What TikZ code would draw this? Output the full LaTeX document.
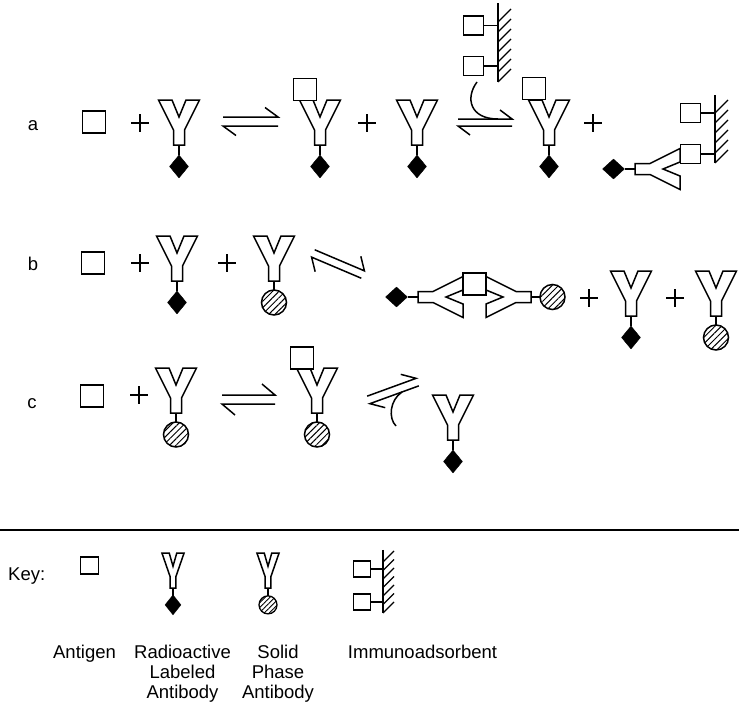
\documentclass[tikz,border=0pt]{standalone}
\usepackage{fontspec}
\setmainfont{Liberation Sans}
\usetikzlibrary{shapes.geometric,patterns.meta}
\tikzset{
  ln/.style={line width=1.5pt, line join=miter},
  lbl/.style={font=\fontsize{18.5}{20}\selectfont, inner sep=0pt},
  ag/.style={draw, line width=1.5pt, fill=white, minimum width=23pt, minimum height=22pt, inner sep=0pt},
  agkey/.style={draw, line width=1.4pt, fill=white, minimum width=18pt, minimum height=17pt, inner sep=0pt},
  dia/.style={diamond, fill=black, draw=black, line width=0.4pt, minimum width=19pt, minimum height=23pt, inner sep=0pt},
  diah/.style={diamond, fill=black, draw=black, line width=0.4pt, minimum width=22pt, minimum height=20pt, inner sep=0pt},
  diakey/.style={diamond, fill=black, draw=black, line width=0.4pt, minimum width=16pt, minimum height=20pt, inner sep=0pt},
  hc/.style={circle, draw, line width=1.5pt, minimum size=25pt, inner sep=0pt,
     pattern={Lines[angle=45,distance=4.5pt,line width=1pt]}},
  hckey/.style={hc, line width=1.3pt, minimum size=18pt, pattern={Lines[angle=45,distance=3.5pt,line width=0.9pt]}},
  pics/ab/.style={code={
    \draw[ln, fill=white] (-20.5,0) -- (-7,0) -- (0,17) -- (7,0) -- (20.5,0) -- (5.5,30)
       -- (5.5,45) -- (-5.5,45) -- (-5.5,30) -- cycle;
    \draw[ln] (0,45) -- (0,55);
    \coordinate (-t) at (0,66.5);
  }},
  pics/imm/.style n args={3}{code={
    \draw[ln] (0,-#1) -- (0,#2);
    \pgfmathtruncatemacro\nh{floor((#1+#2-13)/10)}
    \foreach \k in {0,...,\nh} {\draw[line width=1.2pt] (0,{#2-10*\k}) -- ++(13,-13);}
    \draw[ln] (-14.5,0) -- (0,0) (-14.5,#3) -- (0,#3);
    \draw[ln, fill=white] (-34.5,-9.5) rectangle (-14.5,9.5);
    \draw[ln, fill=white] (-34.5,{#3-9.5}) rectangle (-14.5,{#3+9.5});
  }},
  pics/plus/.style={code={\draw[line width=2.2pt] (-9,0) -- (9,0) (0,-9) -- (0,9);}},
  pics/eq/.style n args={4}{code={
    \draw[ln] ({-#1/2},{-#2/2}) -- ({#1/2},{-#2/2}) -- ({#1/2-#3},{-#2/2-#4});
    \draw[ln] ({#1/2},{#2/2}) -- ({-#1/2},{#2/2}) -- ({-#1/2+#3},{#2/2+#4});
  }}
}
\begin{document}
\begin{tikzpicture}[x=1pt,y=-1pt]
\useasboundingbox (0,0) rectangle (739,704);

% ---------- row a ----------
\node[lbl, anchor=base] (la) at (33,130) {a};
\node[ag] (a0) at (94,122) {};
\pic (ap1) at (140,123) {plus};
\pic (A1) at (179,100) {ab};
\node[dia] (A1d) at (A1-t) {};
\pic (E1) at (250.5,121.5) {eq={55}{9}{13}{9.5}};
\pic (A2) at (320,100) {ab};
\node[dia] (A2d) at (A2-t) {};
\node[ag] (A2s) at (305,89.5) {};
\pic (ap2) at (367,123) {plus};
\pic (A3) at (417,100) {ab};
\node[dia] (A3d) at (A3-t) {};
\pic (I1) at (498,25.5) {imm={22.5}{56.5}{40.5}};
\pic (E2) at (485,122.5) {eq={54}{7}{12}{9}};
\coordinate (c1s) at (477,82);
\coordinate (c1e) at (498,119);
\draw[ln] (c1s) .. controls (465,98) and (470,119) .. (c1e);
\pic (A4) at (549,100) {ab};
\node[dia] (A4d) at (A4-t) {};
\node[ag] (A4s) at (534,88.5) {};
\pic (ap3) at (593,123) {plus};
\pic[rotate=-90] (A5) at (680,169) {ab};
\node[diah] (A5d) at (A5-t) {};
\pic (I2) at (715,113) {imm={18}{50}{41}};

% ---------- row b ----------
\node[lbl, anchor=base] (lb) at (33,270) {b};
\node[ag] (b0) at (93,263) {};
\pic (bp1) at (140,263) {plus};
\pic (B1) at (177,236) {ab};
\node[dia] (B1d) at (B1-t) {};
\pic (bp2) at (227,263) {plus};
\pic (B2) at (274,236) {ab};
\node[hc] (B2c) at (B2-t) {};
\pic[rotate=-23] (E3) at (338,264) {eq={54}{8}{9}{12}};
\pic[rotate=-90] (BL) at (463,297) {ab};
\node[diah] (BLd) at (BL-t) {};
\pic[rotate=90] (BR) at (486,297) {ab};
\node[hc] (BRc) at (BR-t) {};
\node[ag] (Bs) at (474.5,284) {};
\pic (bp3) at (589,298) {plus};
\pic (B3) at (631,271) {ab};
\node[dia] (B3d) at (B3-t) {};
\pic (bp4) at (675,298) {plus};
\pic (B4) at (716,271) {ab};
\node[hc] (B4c) at (B4-t) {};

% ---------- row c ----------
\node[lbl, anchor=base] (lc) at (32,408) {c};
\node[ag] (c0) at (92,396) {};
\pic (cp1) at (139,395) {plus};
\pic (C1) at (176,368) {ab};
\node[hc] (C1c) at (C1-t) {};
\pic (E4) at (248.5,399.5) {eq={53}{9}{13}{11}};
\pic (C2) at (317,368) {ab};
\node[hc] (C2c) at (C2-t) {};
\node[ag] (C2s) at (302,358) {};
\pic[rotate=20] (E5) at (393,391) {eq={52}{8}{13}{9}};
\coordinate (c2s) at (402,392);
\coordinate (c2e) at (396,426);
\draw[ln] (c2s) .. controls (390,400) and (388,418) .. (c2e);
\pic (C3) at (453,395) {ab};
\node[dia] (C3d) at (C3-t) {};

% ---------- separator ----------
\coordinate (hl) at (0,530);
\coordinate (hr) at (739,530);
\draw[line width=1.6pt] (hl) -- (hr);

% ---------- key ----------
\node[lbl, anchor=base west] (key) at (8,580) {Key:};
\node[agkey] (k0) at (89.5,565.5) {};
\pic[xscale=0.54,yscale=0.78] (K1) at (173,553) {ab};
\node[diakey] (K1d) at (K1-t) {};
\pic[xscale=0.54,yscale=0.78] (K2) at (268,553) {ab};
\node[hckey] (K2c) at (K2-t) {};
\pic[scale=0.85] (I3) at (383,569) {imm={22.4}{51.8}{38.8}};

\node[lbl, anchor=base] (t1) at (84.5,658) {Antigen};
\node[lbl, anchor=base] (t2a) at (182.5,658) {Radioactive};
\node[lbl, anchor=base] (t2b) at (182.5,678) {Labeled};
\node[lbl, anchor=base] (t2c) at (182.5,698) {Antibody};
\node[lbl, anchor=base] (t3a) at (278,658) {Solid};
\node[lbl, anchor=base] (t3b) at (278,678) {Phase};
\node[lbl, anchor=base] (t3c) at (278,698) {Antibody};
\node[lbl, anchor=base] (t4) at (422.5,658) {Immunoadsorbent};
\end{tikzpicture}
\end{document}
